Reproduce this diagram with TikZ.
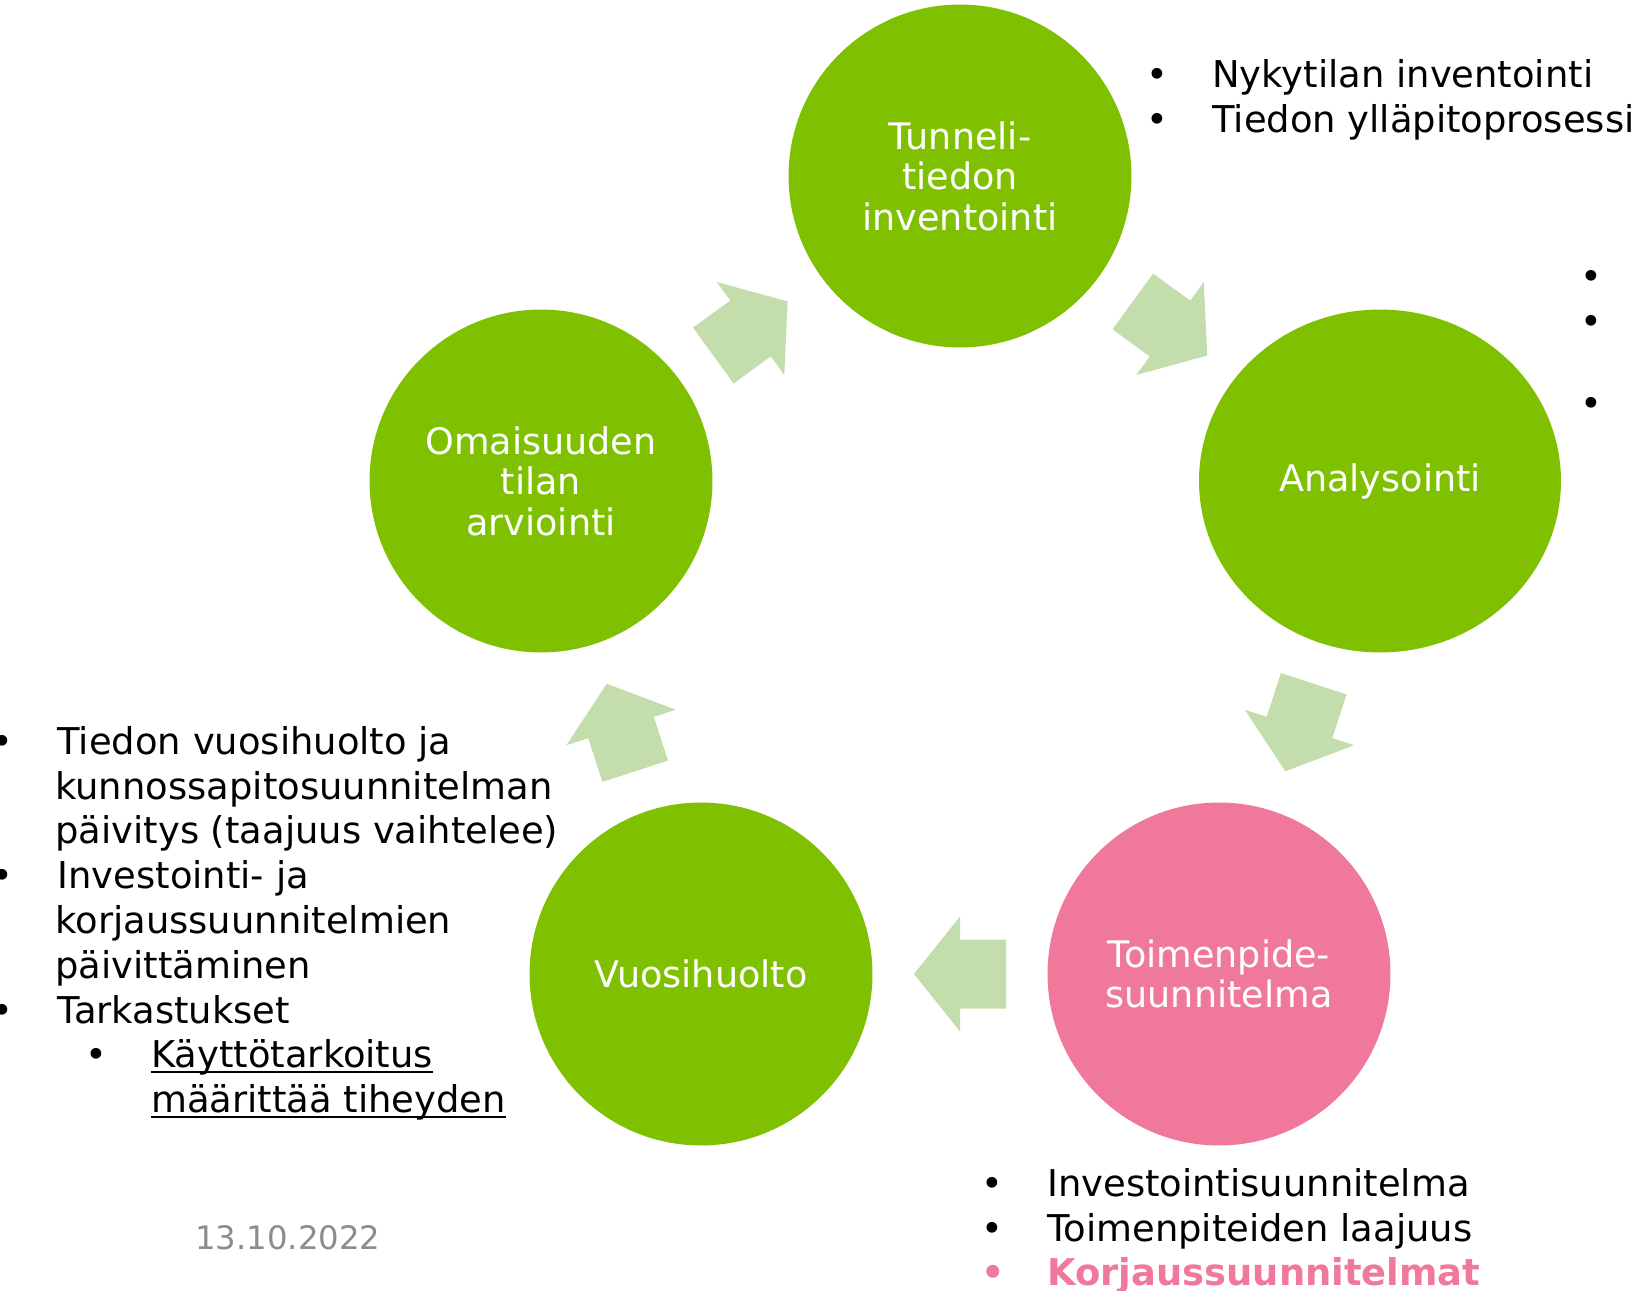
\documentclass[tikz,border=0pt]{standalone}
\usepackage{fontspec}
\setmainfont{DejaVu Sans}
\usetikzlibrary{calc,shapes.geometric}
\definecolor{limegreen}{HTML}{7FC100}
\definecolor{cyclepink}{HTML}{F0789B}
\definecolor{arrowgreen}{HTML}{C3DEAC}
\definecolor{dategray}{HTML}{8C8C8C}
\newcommand\bul{\makebox[1.32cm][l]{•}}
\newcommand\undl[1]{\setbox0\hbox{#1}\rlap{\rule[-3pt]{\wd0}{1.3pt}}\box0}

\begin{document}
\begin{tikzpicture}[x=0.02cm, y=-0.02cm]
        \tikzstyle{phase}=[circle, fill=limegreen, text=white, inner sep=0pt, minimum size=6.86cm, align=center, font=\fontsize{20.8}{23.1}\selectfont]
        \tikzstyle{listline}=[anchor=base west, inner sep=0pt, font=\fontsize{21}{25.6}\selectfont]
        \tikzstyle{cyclearrow}=[fill=arrowgreen]
        \useasboundingbox (0,0) rectangle (1634,1291);
        \clip (0,0) rectangle (1634,1291);
        % the five phases of the cycle
        \node[phase] (inv) at (960,176) {Tunneli-\\tiedon\\inventointi};
        \node[phase, ellipse, minimum width=7.24cm, minimum height=6.86cm] (ana) at (1380,481) {Analysointi};
        \node[phase, fill=cyclepink] (plan) at (1219,974) {Toimenpide-\\suunnitelma};
        \node[phase] (huolto) at (701,974) {Vuosihuolto};
        \node[phase] (arvio) at (541,481) {Omaisuuden\\tilan\\arviointi};
        % block arrows halfway between the phases
        \foreach \from/\to/\ang in {inv/ana/-36, ana/plan/-108, plan/huolto/180, huolto/arvio/108, arvio/inv/36}
            \fill[cyclearrow, shift={($(\from)!0.5!(\to)$)}, rotate=\ang] (-46,-34.5) -- (0,-34.5) -- (0,-57.5) -- (46,0) -- (0,57.5) -- (0,34.5) -- (-46,34.5) -- cycle;
        % notes
        \foreach \t [count=\i from 0] in {Nykytilan inventointi, Tiedon ylläpitoprosessi}
            \node[listline] (invnote\i) at (1146,{87.3+45.4*\i}) {\bul\t};
        \foreach \yb [count=\i] in {289, 334, 416}
            \node[listline] (ananote\i) at (1580,\yb) {•};
        \foreach \xx/\t [count=\i from 0] in {-8.8/{\bul Tiedon vuosihuolto ja}, 55/{kunnossapitosuunnitelman}, 55/{päivitys (taajuus vaihtelee)}, -8.8/{\bul Investointi- ja}, 55/{korjaussuunnitelmien}, 55/{päivittäminen}, -8.8/{\bul Tarkastukset}, 85/{\bul\undl{Käyttötarkoitus}}, 151/{\undl{määrittää tiheyden}}}
            \node[listline] (huoltonote\i) at (\xx,{754.3+44.8*\i}) {\t};
        \foreach \t [count=\i from 0] in {Investointisuunnitelma, Toimenpiteiden laajuus}
            \node[listline] (plannote\i) at (980.9,{1196.7+44.5*\i}) {\bul\t};
        \node[listline, text=cyclepink, font=\fontsize{21}{25.6}\selectfont\bfseries] (plannote2) at (980.9,1285) {\bul Korjaussuunnitelmat};
        \node[anchor=base west, inner sep=0pt, text=dategray, font=\fontsize{18.4}{22}\selectfont] (date) at (195,1249) {13.10.2022};
\end{tikzpicture}
\end{document}
